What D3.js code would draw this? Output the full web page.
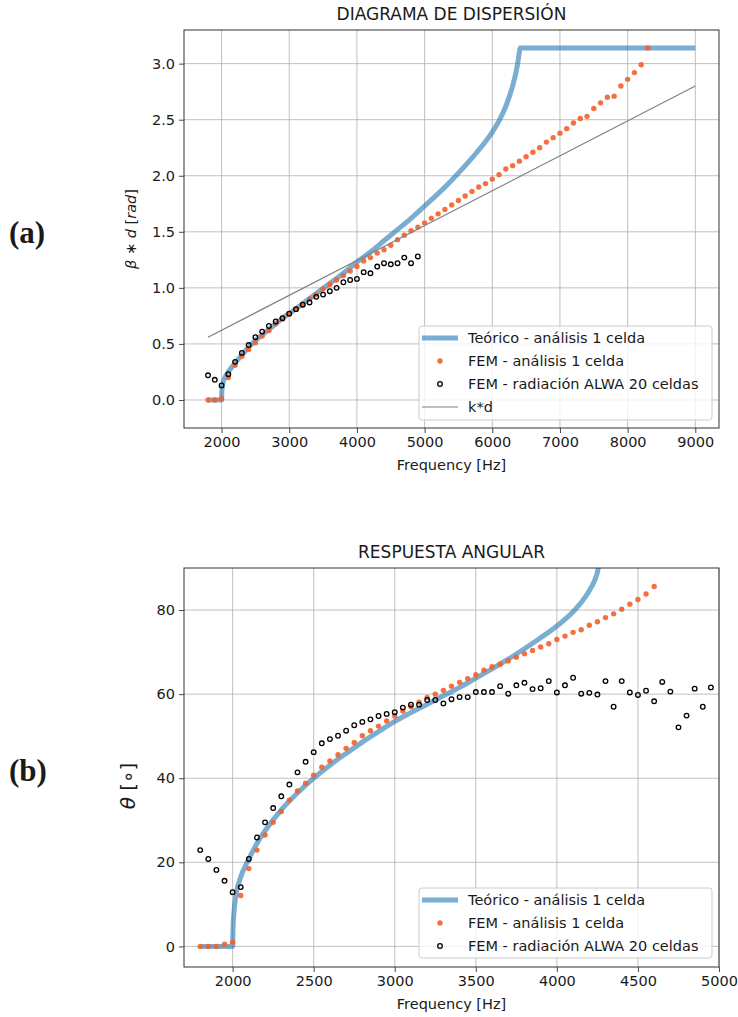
<!DOCTYPE html>
<html>
<head>
<meta charset="utf-8">
<script src="https://cdn.jsdelivr.net/npm/d3@7/dist/d3.min.js"></script>
<style>
  body { margin: 0; background: #fff; }
  text { font-family: "DejaVu Sans", sans-serif; fill: #1a1a1a; }
</style>
</head>
<body>
<script>
// ---- (a) dispersion diagram ----
const theoFreqA = [1800, 2000, 2003, 2010, 2025, 2050, 2100, 2200, 2300, 2400, 2500, 2600, 2700, 2800, 2900, 3000,
    3200, 3400, 3600, 3800, 4000, 4200, 4400, 4600, 4800, 5000, 5200, 5400, 5600, 5800, 6000, 6100, 6200,
    6300, 6350, 6380, 6400, 6410, 9000];
const theoBetaA = [0, 0, 0.06, 0.11, 0.16, 0.20, 0.25, 0.33, 0.40, 0.47, 0.53, 0.58, 0.63, 0.68, 0.73, 0.77,
    0.86, 0.95, 1.04, 1.13, 1.23, 1.32, 1.42, 1.52, 1.62, 1.73, 1.84, 1.96, 2.09, 2.23, 2.39, 2.49, 2.62,
    2.80, 2.92, 3.02, 3.10, 3.14, 3.14];

const femFreqA = [1800, 1900, 2000, 2100, 2200, 2300, 2400, 2500, 2600, 2700, 2800, 2900, 3000, 3100, 3200, 3300,
    3400, 3500, 3600, 3700, 3800, 3900, 4000, 4100, 4200, 4300, 4400, 4500, 4600, 4700, 4800, 4900, 5000,
    5100, 5200, 5300, 5400, 5500, 5600, 5700, 5800, 5900, 6000, 6100, 6200, 6300, 6400, 6500, 6600, 6700,
    6800, 6900, 7000, 7100, 7200, 7300, 7400, 7500, 7600, 7700, 7800, 7900, 8000, 8100, 8200, 8300];
const femBetaA = [0, 0, 0.01, 0.20, 0.31, 0.39, 0.45, 0.51, 0.57, 0.62, 0.68, 0.72, 0.77, 0.81, 0.85, 0.90,
    0.94, 0.99, 1.03, 1.07, 1.11, 1.15, 1.19, 1.24, 1.27, 1.31, 1.34, 1.38, 1.43, 1.47, 1.51, 1.54, 1.58,
    1.62, 1.66, 1.70, 1.74, 1.78, 1.82, 1.86, 1.90, 1.93, 1.97, 2.01, 2.06, 2.09, 2.13, 2.17, 2.21, 2.25,
    2.30, 2.34, 2.38, 2.42, 2.47, 2.51, 2.53, 2.60, 2.65, 2.70, 2.71, 2.80, 2.86, 2.92, 2.99, 3.14];

const alwaFreqA = [1800, 1900, 2000, 2100, 2200, 2300, 2400, 2500, 2600, 2700, 2800, 2900, 3000, 3100, 3200, 3300,
    3400, 3500, 3600, 3700, 3800, 3900, 4000, 4100, 4200, 4300, 4400, 4500, 4600, 4700, 4800, 4900];
const alwaBetaA = [0.22, 0.18, 0.13, 0.23, 0.34, 0.42, 0.49, 0.56, 0.61, 0.66, 0.70, 0.73, 0.77, 0.81, 0.85, 0.87,
    0.92, 0.94, 0.97, 1.00, 1.05, 1.07, 1.08, 1.14, 1.13, 1.19, 1.22, 1.21, 1.22, 1.27, 1.22, 1.28];

const kdFreq = [1800, 9000];
const kdValues = [0.56, 2.80];

const xTicksA = [2000, 3000, 4000, 5000, 6000, 7000, 8000, 9000];
const yTicksA = [0, 0.5, 1.0, 1.5, 2.0, 2.5, 3.0];

// ---- (b) angular response ----
const theoFreqB = [1800, 2000, 2002, 2008, 2020, 2050, 2090, 2150, 2200, 2300, 2400, 2500, 2600, 2700, 2800, 2900,
    3000, 3100, 3200, 3300, 3400, 3500, 3600, 3700, 3800, 3900, 4000, 4100, 4150, 4200, 4230, 4250, 4260];
const theoThetaB = [0, 0, 4, 8, 12, 16.5, 20, 24.5, 27.5, 32.5, 36.5, 40, 43.1, 45.9, 48.6, 51.1,
    53.5, 55.6, 57.6, 59.6, 61.6, 63.8, 66.0, 68.3, 70.8, 73.4, 76.2, 79.6, 81.8, 84.6, 86.8, 89, 91];

const femFreqB = [1800, 1850, 1900, 1950, 2000, 2050, 2100, 2150, 2200, 2250, 2300, 2350, 2400, 2450, 2500, 2550,
    2600, 2650, 2700, 2750, 2800, 2850, 2900, 2950, 3000, 3050, 3100, 3150, 3200, 3250, 3300, 3350, 3400,
    3450, 3500, 3550, 3600, 3650, 3700, 3750, 3800, 3850, 3900, 3950, 4000, 4050, 4100, 4150, 4200, 4250,
    4300, 4350, 4400, 4450, 4500, 4550, 4600];
const femThetaB = [0, 0, 0, 0.5, 1.0, 12.1, 18.5, 22.9, 26.5, 29.5, 32.1, 34.8, 37.0, 38.8, 40.7, 42.6,
    44.1, 45.6, 47.1, 48.5, 50.1, 51.3, 52.4, 53.6, 54.8, 56.0, 57.0, 58.1, 59.2, 60.0, 60.9, 61.9, 62.8,
    63.7, 64.6, 65.7, 66.5, 67.1, 67.9, 68.8, 69.6, 70.4, 71.2, 72.0, 73.0, 73.8, 74.7, 75.3, 76.4, 77.2,
    78.2, 79.1, 80.2, 81.4, 82.5, 83.8, 85.6];

const alwaFreqB = [1800, 1850, 1900, 1950, 2000, 2050, 2100, 2150, 2200, 2250, 2300, 2350, 2400, 2450, 2500, 2550,
    2600, 2650, 2700, 2750, 2800, 2850, 2900, 2950, 3000, 3050, 3100, 3150, 3200, 3250, 3300, 3350, 3400,
    3450, 3500, 3550, 3600, 3650, 3700, 3750, 3800, 3850, 3900, 3950, 4000, 4050, 4100, 4150, 4200, 4250,
    4300, 4350, 4400, 4450, 4500, 4550, 4600, 4650, 4700, 4750, 4800, 4850, 4900, 4950];
const alwaThetaB = [22.9, 20.8, 18.2, 15.6, 12.9, 14.1, 20.8, 25.9, 29.5, 32.9, 35.7, 38.5, 41.4, 43.9, 46.2, 48.3,
    49.3, 50.1, 51.3, 52.6, 53.4, 54.0, 54.8, 55.3, 55.7, 56.8, 57.5, 57.5, 58.6, 58.6, 57.8, 58.8, 59.3,
    59.3, 60.5, 60.5, 60.5, 61.9, 60.1, 62.1, 62.7, 61.2, 61.4, 63.1, 60.4, 62.1, 63.9, 60.1, 60.3, 59.9,
    63.1, 57.0, 63.1, 60.4, 59.8, 60.8, 58.3, 62.9, 60.6, 52.1, 54.9, 61.3, 57.0, 61.6];

const xTicksB = [2000, 2500, 3000, 3500, 4000, 4500, 5000];
const yTicksB = [0, 20, 40, 60, 80];

const legendLabels = ["Teórico - análisis 1 celda", "FEM - análisis 1 celda", "FEM - radiación ALWA 20 celdas", "k*d"];

const BLUE = "#1f77b4";
const ORANGE = "#f4602c";
const FONT = 14.5;

document.addEventListener("DOMContentLoaded", function() {
    const svg = d3.select("body").append("svg")
        .attr("width", 738)
        .attr("height", 1017);

    function zip(xs, ys) {
        return xs.map((f, i) => [f, ys[i]]);
    }

    function drawPanel(cfg) {
        const x = d3.scaleLinear().domain(cfg.xDomain).range([cfg.left, cfg.right]);
        const y = d3.scaleLinear().domain(cfg.yDomain).range([cfg.bottom, cfg.top]);
        const g = svg.append("g");

        // grid
        g.selectAll(".gx").data(cfg.xTicks).enter().append("line")
            .attr("x1", d => x(d)).attr("x2", d => x(d))
            .attr("y1", cfg.top).attr("y2", cfg.bottom)
            .attr("stroke", "#b0b0b0").attr("stroke-width", 0.8);
        g.selectAll(".gy").data(cfg.yTicks).enter().append("line")
            .attr("x1", cfg.left).attr("x2", cfg.right)
            .attr("y1", d => y(d)).attr("y2", d => y(d))
            .attr("stroke", "#b0b0b0").attr("stroke-width", 0.8);

        const clipId = "clip-" + cfg.id;
        svg.append("clipPath").attr("id", clipId)
            .append("rect")
            .attr("x", cfg.left).attr("y", cfg.top)
            .attr("width", cfg.right - cfg.left).attr("height", cfg.bottom - cfg.top);

        const plot = g.append("g").attr("clip-path", `url(#${clipId})`);
        const line = d3.line().x(d => x(d[0])).y(d => y(d[1]));
        const smooth = d3.line().x(d => x(d[0])).y(d => y(d[1])).curve(d3.curveMonotoneX);

        // theoretical curve
        plot.append("path")
            .datum(zip(cfg.theo[0], cfg.theo[1]))
            .attr("fill", "none")
            .attr("stroke", BLUE)
            .attr("stroke-opacity", 0.6)
            .attr("stroke-width", 5)
            .attr("stroke-linejoin", "round")
            .attr("d", smooth);

        // FEM 1 cell
        plot.selectAll(".fem").data(zip(cfg.fem[0], cfg.fem[1])).enter().append("circle")
            .attr("cx", d => x(d[0])).attr("cy", d => y(d[1]))
            .attr("r", 2.7)
            .attr("fill", ORANGE).attr("fill-opacity", 0.9);

        // ALWA radiation
        plot.selectAll(".alwa").data(zip(cfg.alwa[0], cfg.alwa[1])).enter().append("circle")
            .attr("cx", d => x(d[0])).attr("cy", d => y(d[1]))
            .attr("r", 2.3)
            .attr("fill", "none").attr("stroke", "#000").attr("stroke-width", 1.3);

        if (cfg.kd) {
            plot.append("path")
                .datum(zip(cfg.kd[0], cfg.kd[1]))
                .attr("fill", "none")
                .attr("stroke", "#808080")
                .attr("stroke-width", 1.2)
                .attr("d", line);
        }

        // axes
        const xAxis = g.append("g")
            .attr("transform", `translate(0,${cfg.bottom})`)
            .call(d3.axisBottom(x).tickValues(cfg.xTicks).tickFormat(d3.format("d")).tickSize(5).tickPadding(4));
        const yAxis = g.append("g")
            .attr("transform", `translate(${cfg.left},0)`)
            .call(d3.axisLeft(y).tickValues(cfg.yTicks).tickFormat(cfg.yFormat).tickSize(5).tickPadding(4));
        [xAxis, yAxis].forEach(a => {
            a.select(".domain").remove();
            a.selectAll("line").attr("stroke", "#333").attr("stroke-width", 0.9);
            a.selectAll("text").style("font-size", FONT + "px").style("font-family", "DejaVu Sans").attr("fill", "#1a1a1a");
        });

        // frame
        g.append("rect")
            .attr("x", cfg.left).attr("y", cfg.top)
            .attr("width", cfg.right - cfg.left).attr("height", cfg.bottom - cfg.top)
            .attr("fill", "none").attr("stroke", "#333").attr("stroke-width", 1);

        // titles
        const cx = (cfg.left + cfg.right) / 2;
        g.append("text")
            .attr("x", cx).attr("y", cfg.top - 10)
            .attr("text-anchor", "middle")
            .style("font-size", "17px")
            .text(cfg.title);
        g.append("text")
            .attr("x", cx).attr("y", cfg.bottom + 42)
            .attr("text-anchor", "middle")
            .style("font-size", FONT + "px")
            .text("Frequency [Hz]");

        // legend
        const lg = g.append("g");
        const lb = cfg.legendBox;
        lg.append("rect")
            .attr("x", lb.x).attr("y", lb.y)
            .attr("width", lb.w).attr("height", lb.h)
            .attr("rx", 3)
            .attr("fill", "#fff").attr("fill-opacity", 0.8)
            .attr("stroke", "#cccccc").attr("stroke-width", 1);
        cfg.legendItems.forEach((item, i) => {
            const ry = lb.y + 12 + i * 23;
            if (item === 0) {
                lg.append("line").attr("x1", lb.x + 3).attr("x2", lb.x + 39).attr("y1", ry).attr("y2", ry)
                    .attr("stroke", BLUE).attr("stroke-opacity", 0.6).attr("stroke-width", 5);
            } else if (item === 1) {
                lg.append("circle").attr("cx", lb.x + 21).attr("cy", ry).attr("r", 2.7)
                    .attr("fill", ORANGE).attr("fill-opacity", 0.9);
            } else if (item === 2) {
                lg.append("circle").attr("cx", lb.x + 21).attr("cy", ry).attr("r", 2.3)
                    .attr("fill", "none").attr("stroke", "#000").attr("stroke-width", 1.3);
            } else {
                lg.append("line").attr("x1", lb.x + 3).attr("x2", lb.x + 39).attr("y1", ry).attr("y2", ry)
                    .attr("stroke", "#808080").attr("stroke-width", 1.2);
            }
            lg.append("text")
                .attr("x", lb.x + 49).attr("y", ry + 5)
                .style("font-size", FONT + "px")
                .text(legendLabels[item]);
        });
    }

    drawPanel({
        id: "a",
        left: 184, right: 719, top: 30, bottom: 428,
        xDomain: [1445, 9350], yDomain: [-0.25, 3.3],
        xTicks: xTicksA, yTicks: yTicksA, yFormat: d3.format(".1f"),
        theo: [theoFreqA, theoBetaA],
        fem: [femFreqA, femBetaA],
        alwa: [alwaFreqA, alwaBetaA],
        kd: [kdFreq, kdValues],
        title: "DIAGRAMA DE DISPERSIÓN",
        legendBox: { x: 419, y: 326, w: 293, h: 94 },
        legendItems: [0, 1, 2, 3]
    });

    drawPanel({
        id: "b",
        left: 184, right: 719, top: 568, bottom: 967,
        xDomain: [1700, 5000], yDomain: [-4.9, 90],
        xTicks: xTicksB, yTicks: yTicksB, yFormat: d3.format("d"),
        theo: [theoFreqB, theoThetaB],
        fem: [femFreqB, femThetaB],
        alwa: [alwaFreqB, alwaThetaB],
        kd: null,
        title: "RESPUESTA ANGULAR",
        legendBox: { x: 419, y: 888, w: 293, h: 70 },
        legendItems: [0, 1, 2]
    });

    // y axis labels
    const yl1 = svg.append("text")
        .attr("transform", "translate(136,229) rotate(-90)")
        .attr("text-anchor", "middle")
        .style("font-size", FONT + "px");
    yl1.append("tspan").style("font-style", "italic").text("β");
    yl1.append("tspan").text(" ∗ ");
    yl1.append("tspan").style("font-style", "italic").text("d");
    yl1.append("tspan").text(" [");
    yl1.append("tspan").style("font-style", "italic").text("rad");
    yl1.append("tspan").text("]");

    const yl2 = svg.append("text")
        .attr("transform", "translate(135,786) rotate(-90)")
        .attr("text-anchor", "middle")
        .style("font-size", "20px");
    yl2.append("tspan").style("font-style", "italic").text("θ");
    yl2.append("tspan").text(" [∘]");

    // panel letters
    svg.append("text")
        .attr("x", 9).attr("y", 243)
        .style("font-family", "Liberation Serif")
        .style("font-weight", "bold")
        .style("font-size", "31px")
        .text("(a)");
    svg.append("text")
        .attr("x", 9).attr("y", 781)
        .style("font-family", "Liberation Serif")
        .style("font-weight", "bold")
        .style("font-size", "31px")
        .text("(b)");
});
</script>
</body>
</html>
